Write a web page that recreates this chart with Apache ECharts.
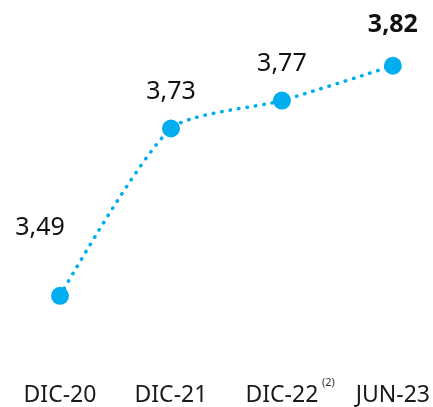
<!DOCTYPE html>
<html>
<head>
<meta charset="utf-8">
<script src="https://cdn.jsdelivr.net/npm/echarts@6/dist/echarts.min.js"></script>
<style>
  html, body { margin: 0; padding: 0; background: #fff; }
  #chart { width: 433px; height: 407px; }
</style>
</head>
<body>
<div id="chart"></div>
<script>
// periodos y valores
var periodos = ['DIC-20', 'DIC-21', 'DIC-22', 'JUN-23']
var valores = [3.49, 3.73, 3.77, 3.82]
var notas = ['', '', '(2)', '']  // superindice en el eje

var azul = '#00aeef'
var fuente = 'Noto Sans'

var chart = echarts.init(document.getElementById('chart'))

// datos con etiqueta; la primera va desplazada a la izquierda y mas arriba
var datos = valores.map(function (v, i) {
  var d = { value: v }
  if (i == 0) d.label = { offset: [-20, -31] }
  if (i == valores.length - 1) d.label = { fontWeight: 'bold', distance: 19 }
  return d
})

chart.setOption({
  animation: false,
  grid: { left: 60, right: 38, top: 10, bottom: 47 },
  xAxis: {
    type: 'category',
    data: periodos,
    boundaryGap: false,
    axisLine: { show: false },
    axisTick: { show: false },
    axisLabel: {
      margin: 19,
      interval: 0,
      formatter: function (val, i) {
        if (notas[i]) return '{pad|}{a|' + val + '}{sup|' + notas[i] + '}'
        return '{a|' + val + '}'
      },
      rich: {
        a: { fontFamily: fuente, fontSize: 23, color: '#1a1a1a', lineHeight: 30, padding: [6, 0, 0, 0] },
        sup: { fontFamily: fuente, fontSize: 11, color: '#333', lineHeight: 5, width: 14, verticalAlign: 'top', padding: [0, 0, 0, 3] },
        pad: { width: 17, lineHeight: 30 }
      }
    }
  },
  yAxis: {
    type: 'value',
    min: 3.4,
    max: 3.9,
    show: false,
    splitLine: { show: false }
  },
  series: [{
    type: 'line',
    data: datos,
    smooth: 0.22,
    symbol: 'circle',
    symbolSize: 18,
    itemStyle: { color: azul },
    lineStyle: { color: azul, width: 3.5, type: [0.5, 8], cap: 'round' },
    label: {
      show: true,
      position: 'top',
      distance: 15,
      fontFamily: fuente,
      fontSize: 25,
      color: '#111',
      formatter: function (p) { return p.value.toFixed(2).replace('.', ',') }
    }
  }]
})
</script>
</body>
</html>
